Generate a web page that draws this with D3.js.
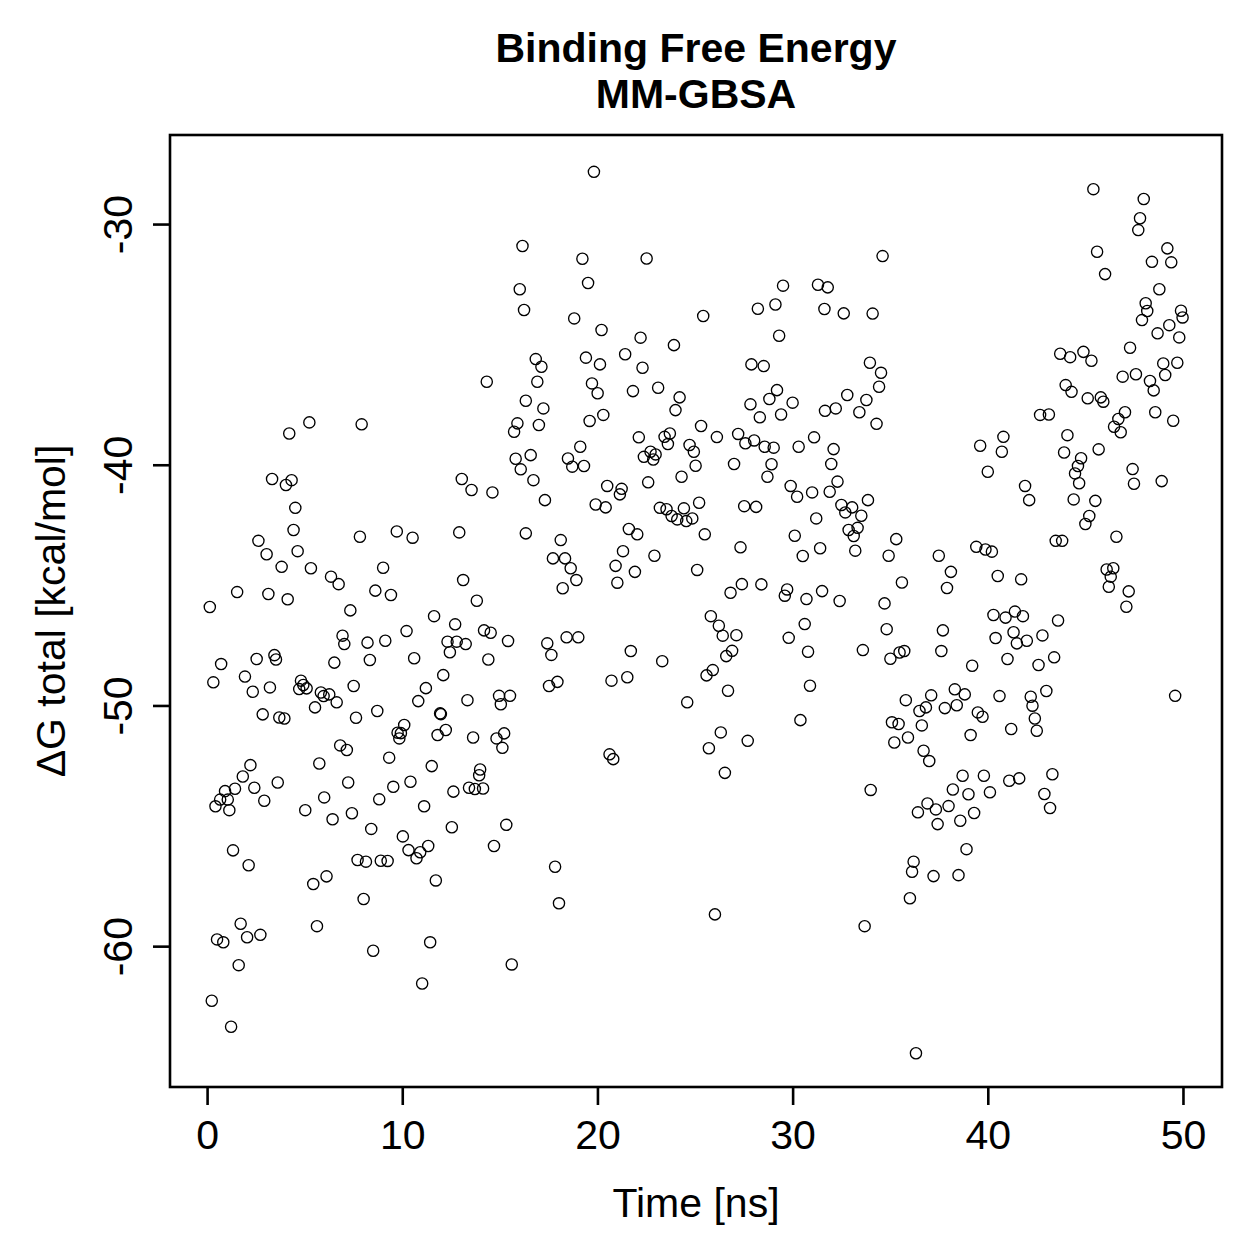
<!DOCTYPE html>
<html><head><meta charset="utf-8">
<script src="https://cdn.jsdelivr.net/npm/d3@7"></script>
<style>body{margin:0;background:#fff}svg{display:block}</style>
</head><body><div id="c"></div>
<script>
const title1 = "Binding Free Energy";
const title2 = "MM-GBSA";
const xLabel = "Time [ns]";
const yLabel = "\u0394G total [kcal/mol]";
const xTicks = [0, 10, 20, 30, 40, 50];
const yTicks = [-60, -50, -40, -30];
const xDomain = [-1.9, 52.0];
const yDomain = [-65.81, -26.30];

// time [ns]
const time = [
16.16,16.02,16.24,14.33,16.33,4.21,5.24,7.92,15.90,15.73,15.81,
19.82,19.23,22.52,19.52,18.81,25.42,29.51,31.30,31.80,28.22,29.12,31.63,32.62,34.10,
20.21,22.21,23.92,29.31,16.84,17.13,19.41,20.13,21.42,22.31,27.89,28.52,33.96,
16.92,19.72,20.01,21.82,23.11,24.21,17.23,24.00,29.20,28.81,27.84,28.32,29.41,30.00,32.80,33.78,
31.66,32.21,33.42,17.00,19.60,20.30,16.58,18.49,19.12,22.12,22.38,22.72,22.98,23.44,23.71,23.61,
24.72,24.94,25.31,26.12,27.21,27.58,28.03,28.57,29.03,30.31,31.10,32.10,
45.41,47.99,47.80,47.71,34.61,45.60,46.01,49.20,48.41,49.40,48.79,48.09,48.17,47.90,49.90,49.98,
49.30,48.70,49.81,47.29,43.71,44.22,44.90,45.31,48.99,49.71,49.09,46.91,47.59,48.31,48.50,
34.53,34.43,34.30,43.99,44.29,45.12,45.79,45.92,47.03,46.69,46.47,46.81,48.58,49.50,42.68,43.13,
44.08,39.61,40.80,40.72,43.91,44.78,45.68,
16.07,3.33,4.04,4.33,13.05,13.55,14.62,4.52,4.43,2.63,3.05,4.64,3.82,5.32,7.83,9.72,10.53,12.92,16.33,
6.35,6.74,9.02,1.54,3.14,4.13,0.14,8.62,9.42,13.12,13.82,7.34,11.63,12.71,14.19,14.53,15.42,
6.94,7.03,8.22,9.13,10.22,12.32,12.79,13.25,12.44,14.41,0.72,2.54,3.45,3.53,6.52,8.34,10.61,12.10,
0.32,1.94,2.34,3.22,4.81,4.93,4.72,5.10,5.83,6.26,5.97,6.64,5.53,7.51,8.72,7.63,11.21,10.82,13.34,
14.96,15.52,15.05,2.85,3.70,3.96,11.94,11.98,10.10,9.76,9.93,9.85,12.23,11.81,13.63,15.22,14.83,15.13,
6.82,7.16,9.33,11.51,13.99,13.94,5.75,2.22,1.83,
1.43,0.92,0.67,0.43,1.06,1.14,2.42,2.93,3.62,5.03,6.00,6.43,7.23,7.42,8.41,8.82,9.54,10.42,11.12,
10.03,10.32,10.92,11.33,10.73,12.62,12.54,13.42,13.72,14.14,15.33,14.70,11.72,7.71,8.14,8.90,9.25,
5.44,6.12,8.02,1.33,2.13,1.72,0.51,0.83,2.05,2.73,5.63,8.51,11.43,15.61,1.62,11.02,0.24,1.23,
16.72,17.31,18.71,19.31,20.50,21.24,21.15,19.91,20.42,22.86,22.60,24.31,25.03,23.20,23.54,23.80,
24.09,24.43,24.55,24.86,25.21,25.50,27.00,27.52,28.13,28.92,28.71,29.90,30.23,31.00,31.98,32.30,
31.90,31.21,32.50,32.70,33.05,33.52,33.86,32.87,33.33,33.13,33.21,30.11,30.52,31.41,27.33,25.11,
18.12,17.72,18.34,18.63,18.92,18.22,21.61,22.04,21.31,20.93,21.92,21.02,22.92,27.40,26.82,28.40,
29.72,29.60,30.71,31.51,32.41,30.62,29.80,30.79,33.60,30.89,30.40,25.81,26.22,26.42,27.12,26.90,
26.60,25.91,25.59,26.69,24.60,26.32,25.71,27.70,26.53,17.43,17.64,18.42,19.02,17.52,17.95,21.71,
23.32,20.72,21.53,20.62,20.81,
34.00,17.83,18.03,26.02,33.69,
44.62,44.47,44.68,40.00,47.42,47.49,48.91,41.91,42.12,44.40,45.51,45.20,45.00,46.59,43.48,43.81,
46.09,46.43,46.30,46.20,47.22,47.10,49.60,35.31,34.92,37.49,38.11,37.91,39.41,39.88,40.21,40.51,
41.71,35.60,34.71,34.82,37.70,40.29,40.91,41.39,41.80,43.60,41.32,41.49,42.00,42.80,40.40,41.01,
42.60,43.40,39.20,35.01,35.48,35.72,37.62,35.80,37.10,36.83,36.50,38.31,38.82,38.41,37.80,35.09,
35.43,36.62,39.49,39.73,40.60,42.20,42.29,42.41,42.51,43.00,41.20,39.12,35.91,35.21,36.71,37.00,
38.71,39.80,41.10,41.61,43.31,38.21,39.01,40.11,42.90,43.19,36.91,36.42,37.34,37.99,37.43,38.59,
39.30,38.91,36.20,36.12,37.22,38.50,36.01,36.32
];

// dG total [kcal/mol]
const dG = [
-30.91,-32.71,-33.57,-36.55,-37.34,-38.70,-38.24,-38.32,-38.28,-38.63,-39.75,
-27.83,-31.44,-31.43,-32.45,-33.92,-33.82,-32.56,-32.52,-32.63,-33.52,-33.34,-33.53,-33.71,-33.72,
-34.40,-34.72,-35.03,-34.64,-35.61,-35.93,-35.55,-35.83,-35.41,-35.97,-35.83,-35.90,-35.76,
-36.55,-36.62,-37.03,-36.94,-36.80,-37.20,-37.66,-37.73,-36.90,-37.27,-37.49,-38.03,-37.91,-37.42,-37.10,-37.31,
-37.76,-37.66,-37.82,-38.35,-38.18,-37.93,-39.60,-39.74,-39.25,-38.86,-39.67,-39.46,-39.57,-38.84,-38.70,-39.14,
-39.18,-39.46,-38.39,-38.85,-38.72,-39.11,-38.99,-39.25,-39.29,-39.25,-38.86,-39.35,
-28.55,-28.96,-29.76,-30.25,-31.33,-31.15,-32.08,-31.01,-31.57,-31.59,-32.71,-33.29,-33.61,-33.99,-33.60,-33.88,
-34.20,-34.54,-34.71,-35.14,-35.39,-35.53,-35.31,-35.68,-35.79,-35.76,-36.27,-36.34,-36.24,-36.52,-36.91,
-36.18,-36.76,-38.30,-36.69,-36.97,-37.24,-37.20,-37.38,-37.82,-38.10,-38.42,-38.65,-37.82,-38.17,-37.93,-37.91,
-38.77,-39.21,-38.84,-39.46,-39.49,-39.73,-39.36,
-40.19,-40.59,-40.84,-40.64,-40.59,-41.05,-41.15,-41.79,-42.71,-43.16,-43.72,-43.59,-44.24,-44.30,-42.99,-42.77,-43.03,-42.81,-42.85,
-44.65,-44.96,-44.28,-45.29,-45.37,-45.59,-45.91,-45.23,-45.41,-44.79,-45.65,-46.05,-46.29,-46.63,-46.88,-46.98,-47.32,
-47.10,-47.45,-47.39,-47.31,-46.91,-47.35,-47.35,-47.45,-47.79,-48.09,-48.28,-48.07,-47.91,-48.09,-48.22,-48.11,-48.04,-48.74,
-49.04,-48.80,-49.43,-49.25,-48.97,-49.15,-49.32,-49.29,-49.46,-49.54,-49.61,-49.87,-50.08,-49.19,-50.23,-50.51,-49.28,-49.82,-49.78,
-49.60,-49.60,-49.95,-50.37,-50.50,-50.54,-50.33,-50.36,-50.81,-51.13,-51.15,-51.37,-51.02,-51.23,-51.33,-51.16,-51.37,-51.76,
-51.66,-51.85,-52.17,-52.52,-52.66,-52.90,-52.41,-52.48,-52.95,
-53.46,-53.56,-53.91,-54.19,-53.91,-54.35,-53.42,-53.96,-53.20,-54.35,-53.82,-54.73,-53.20,-54.48,-55.13,-53.90,-53.38,-53.17,-54.19,
-55.44,-56.01,-56.10,-55.84,-56.35,-53.58,-55.06,-53.42,-53.47,-53.45,-54.96,-55.84,-57.27,-56.42,-56.49,-56.45,-56.46,
-57.42,-57.10,-58.04,-56.02,-56.64,-59.07,-59.72,-59.84,-59.63,-59.53,-59.17,-60.19,-59.84,-60.76,-60.79,-61.55,-62.27,-63.35,
-40.64,-41.47,-40.08,-40.05,-40.88,-41.00,-41.23,-41.65,-41.77,-39.78,-40.73,-40.50,-40.04,-41.79,-41.85,-42.13,
-42.27,-41.81,-42.34,-42.23,-41.58,-42.89,-39.97,-41.72,-41.75,-39.98,-40.50,-40.88,-41.33,-41.15,-39.97,-40.70,
-41.12,-42.23,-41.67,-41.98,-41.77,-42.12,-41.47,-42.71,-42.62,-42.96,-43.57,-42.95,-43.79,-43.47,-43.43,-44.37,
-43.13,-43.89,-43.89,-44.30,-44.79,-45.13,-42.67,-42.89,-43.59,-44.20,-44.45,-44.90,-43.78,-44.96,-45.32,-44.97,
-45.18,-45.44,-45.58,-45.25,-45.66,-46.62,-47.19,-47.77,-47.70,-49.18,-50.61,-46.29,-46.69,-47.10,-47.08,-47.73,
-47.95,-48.53,-48.75,-49.39,-49.87,-51.12,-51.78,-51.47,-52.80,-47.42,-47.90,-47.17,-47.17,-49.19,-49.02,-47.74,
-48.16,-48.97,-48.83,-52.03,-52.23,
-53.51,-56.70,-58.22,-58.68,-59.17,
-40.05,-40.36,-40.77,-40.29,-40.18,-40.79,-40.68,-40.88,-41.47,-41.44,-41.50,-42.13,-42.46,-42.99,-43.16,-43.16,
-44.35,-44.30,-44.65,-45.07,-45.26,-45.90,-49.60,-43.09,-43.78,-43.78,-44.45,-45.12,-43.41,-43.52,-43.61,-44.62,
-44.76,-44.89,-45.76,-46.83,-46.88,-46.24,-46.35,-46.10,-46.29,-46.47,-46.96,-47.42,-47.31,-47.09,-47.20,-48.07,
-48.32,-48.00,-48.35,-48.06,-47.80,-47.74,-47.74,-49.78,-49.58,-50.08,-50.23,-49.33,-49.54,-49.99,-50.11,-50.70,
-50.77,-50.83,-50.29,-50.47,-49.61,-49.64,-50.01,-50.54,-51.05,-49.40,-50.98,-51.23,-51.33,-51.54,-51.88,-52.31,
-52.92,-52.92,-53.13,-53.03,-52.86,-53.49,-53.69,-53.61,-53.68,-54.26,-54.07,-54.44,-54.32,-54.18,-54.93,-54.79,
-54.47,-55.97,-56.49,-56.91,-57.09,-57.05,-58.01,-64.45
];

(function () {
const W = 1259, H = 1259;
const mL = 170, mR = 1222, mT = 135, mB = 1087;
const FONT = "'Liberation Sans', Arial, Helvetica, sans-serif";
const FS = 41;

const svg = d3.select("#c").append("svg").attr("width", W).attr("height", H);
const x = d3.scaleLinear().domain(xDomain).range([mL, mR]);
const y = d3.scaleLinear().domain(yDomain).range([1086, mT]);

const pts = d3.range(Math.min(time.length, dG.length)).map(i => ({t: time[i], g: dG[i]}));

svg.append("g").selectAll("circle").data(pts).enter().append("circle")
  .attr("cx", d => x(d.t)).attr("cy", d => y(d.g)).attr("r", 5.6)
  .attr("fill", "none").attr("stroke", "#000").attr("stroke-width", 1.35);

svg.append("rect").attr("x", mL).attr("y", mT).attr("width", mR - mL).attr("height", mB - mT)
  .attr("fill", "none").attr("stroke", "#000").attr("stroke-width", 2.6);

const xa = svg.append("g").attr("transform", `translate(0,${mB})`)
  .call(d3.axisBottom(x).tickValues(xTicks).tickSize(18).tickFormat(d => String(d)));
xa.select(".domain").remove();
xa.selectAll("line").attr("stroke-width", 2.6);
xa.selectAll("text").attr("dy", null).attr("y", 62)
  .attr("font-family", FONT).attr("font-size", FS).attr("fill", "#000");

const ya = svg.append("g").attr("transform", `translate(${mL},0)`)
  .call(d3.axisLeft(y).tickValues(yTicks).tickSize(17).tickFormat(d => String(d)));
ya.select(".domain").remove();
ya.selectAll("line").attr("stroke-width", 2.6);
ya.selectAll("text").remove();
ya.selectAll(".tick").append("text")
  .attr("transform", "translate(-38,0) rotate(-90)")
  .attr("text-anchor", "middle")
  .attr("font-family", FONT).attr("font-size", FS).attr("fill", "#000")
  .text(d => String(d));

svg.append("text").attr("x", (mL + mR) / 2).attr("y", 1217).attr("text-anchor", "middle")
  .attr("font-family", FONT).attr("font-size", FS).text(xLabel);
svg.append("text").attr("transform", `translate(65,${(mT + mB) / 2}) rotate(-90)`).attr("text-anchor", "middle")
  .attr("font-family", FONT).attr("font-size", FS).text(yLabel);

svg.append("text").attr("x", (mL + mR) / 2).attr("y", 62).attr("text-anchor", "middle")
  .attr("font-family", FONT).attr("font-weight", "bold").attr("font-size", FS).text(title1);
svg.append("text").attr("x", (mL + mR) / 2).attr("y", 108).attr("text-anchor", "middle")
  .attr("font-family", FONT).attr("font-weight", "bold").attr("font-size", FS).text(title2);
})();
</script></body></html>
